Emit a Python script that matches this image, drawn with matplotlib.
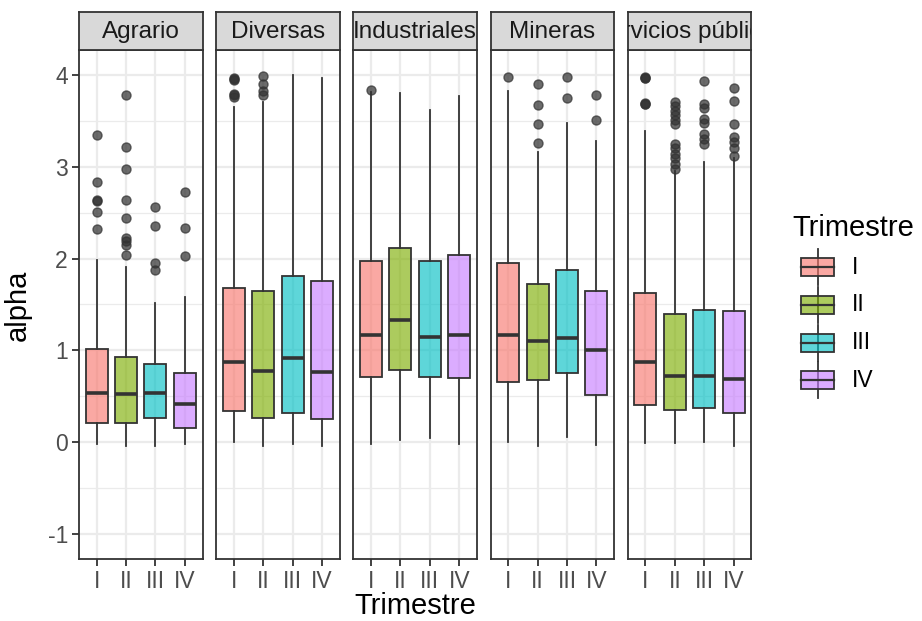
import matplotlib
matplotlib.use('Agg')
import matplotlib.pyplot as plt
from matplotlib.patches import Rectangle

plt.rcParams['font.family'] = ['Liberation Sans', 'DejaVu Sans']
plt.rcParams['axes.unicode_minus'] = False

sectores = ['Agrario', 'Diversas', 'Industriales', 'Mineras', 'Servicios públicos']
trimestres = ['I', 'II', 'III', 'IV']
colores = ['#F8766D', '#7CAE00', '#00BFC4', '#C77CFF']

# filas = sector, columnas = trimestre
mediana = [[0.54, 0.525, 0.54, 0.42],
           [0.87, 0.78, 0.92, 0.76],
           [1.17, 1.33, 1.15, 1.17],
           [1.17, 1.10, 1.14, 1.01],
           [0.87, 0.725, 0.725, 0.69]]
q1 = [[0.21, 0.21, 0.27, 0.16],
      [0.34, 0.27, 0.32, 0.25],
      [0.71, 0.79, 0.71, 0.70],
      [0.66, 0.68, 0.75, 0.515],
      [0.405, 0.355, 0.375, 0.32]]
q3 = [[1.02, 0.93, 0.855, 0.75],
      [1.685, 1.65, 1.81, 1.755],
      [1.97, 2.115, 1.97, 2.04],
      [1.95, 1.72, 1.88, 1.65],
      [1.63, 1.395, 1.445, 1.43]]
bigote_inf = [[-0.02, -0.04, -0.04, -0.02],
              [0.0, -0.04, -0.02, -0.04],
              [-0.02, 0.025, 0.045, -0.02],
              [0.0, -0.04, 0.06, -0.03],
              [-0.01, -0.01, 0.0, -0.04]]
bigote_sup = [[1.98, 1.91, 1.52, 1.58],
              [3.645, 3.70, 4.0, 3.96],
              [3.81, 3.80, 3.62, 3.765],
              [3.82, 3.155, 3.48, 3.28],
              [3.39, 2.95, 3.05, 3.09]]
atipicos = [
    [[3.35, 2.83, 2.64, 2.63, 2.51, 2.32],
     [3.78, 3.21, 2.97, 2.64, 2.44, 2.22, 2.19, 2.15, 2.04],
     [2.56, 2.35, 1.95, 1.88],
     [2.72, 2.33, 2.03]],
    [[3.96, 3.95, 3.94, 3.79, 3.775, 3.76],
     [3.985, 3.90, 3.82, 3.78],
     [],
     []],
    [[3.84], [], [], []],
    [[3.98],
     [3.905, 3.67, 3.46, 3.26],
     [3.98, 3.75],
     [3.78, 3.51]],
    [[3.975, 3.97, 3.965, 3.69, 3.685, 3.68],
     [3.70, 3.66, 3.61, 3.56, 3.51, 3.47, 3.25, 3.20, 3.14, 3.09, 3.03, 2.98],
     [3.93, 3.685, 3.64, 3.52, 3.48, 3.36, 3.30, 3.25],
     [3.855, 3.71, 3.46, 3.32, 3.27, 3.20, 3.12]],
]

W, H = 922, 621
fig = plt.figure(figsize=(W / 100, H / 100), dpi=100)

borde = '#333333'
gris_txt = '#4D4D4D'

for i, sector in enumerate(sectores):
    left = 79 + i * 137.2
    ax = fig.add_axes([left / W, 1 - 559 / H, 123.5 / W, (559 - 50) / H])
    stats = []
    for j in range(4):
        stats.append(dict(med=mediana[i][j], q1=q1[i][j], q3=q3[i][j],
                          whislo=bigote_inf[i][j], whishi=bigote_sup[i][j],
                          fliers=atipicos[i][j]))
    bp = ax.bxp(stats, positions=[1, 2, 3, 4], widths=0.75, patch_artist=True,
                showcaps=False,
                boxprops=dict(edgecolor=borde, linewidth=1.3),
                whiskerprops=dict(color=borde, linewidth=1.3),
                medianprops=dict(color=borde, linewidth=2.6),
                flierprops=dict(marker='o', markersize=6.5, markerfacecolor='#333333',
                                markeredgecolor='#333333', alpha=0.72, linestyle='none'),
                zorder=3)
    for patch, c in zip(bp['boxes'], colores):
        r, g, b = matplotlib.colors.to_rgb(c)
        patch.set_facecolor((r, g, b, 0.63))
        patch.set_edgecolor(borde)
    ax.set_xlim(0.4, 4.6)
    ax.set_ylim(-1.27, 4.27)
    ax.set_xticks([1, 2, 3, 4])
    ax.set_xticklabels(trimestres)
    ax.set_yticks([-1, 0, 1, 2, 3, 4])
    ax.set_yticks([-0.5, 0.5, 1.5, 2.5, 3.5], minor=True)
    ax.grid(which='major', color='#EBEBEB', linewidth=1.6, zorder=0)
    ax.grid(which='minor', axis='y', color='#EBEBEB', linewidth=0.9, zorder=0)
    ax.set_axisbelow(True)
    for s in ax.spines.values():
        s.set_color(borde)
        s.set_linewidth(1.3)
    ax.tick_params(axis='both', which='major', length=5, width=1.3, color=borde,
                   labelcolor=gris_txt, labelsize=16.5, pad=3)
    ax.tick_params(axis='y', which='minor', length=0)
    if i > 0:
        ax.tick_params(axis='y', which='both', left=False, labelleft=False)

    # tira del facet
    sx = fig.add_axes([left / W, 1 - 50 / H, 123.5 / W, 38 / H])
    sx.set_xlim(0, 1)
    sx.set_ylim(0, 1)
    sx.set_facecolor('#D9D9D9')
    sx.set_xticks([])
    sx.set_yticks([])
    for s in sx.spines.values():
        s.set_color(borde)
        s.set_linewidth(1.3)
    sx.text(0.5, 0.47, sector, ha='center', va='center', fontsize=17.5,
            color='#1A1A1A', clip_on=True)

fig.text(18 / W, 1 - 305 / H, 'alpha', rotation=90, ha='center', va='center',
         fontsize=21, color='black')
fig.text(415 / W, 1 - 606 / H, 'Trimestre', ha='center', va='center',
         fontsize=21, color='black')

# leyenda
lg = fig.add_axes([780 / W, 1 - 410 / H, 142 / W, 200 / H])
lg.set_xlim(780, 922)
lg.set_ylim(410, 210)
lg.axis('off')
lg.text(792, 228, 'Trimestre', ha='left', va='center', fontsize=21, color='black')
for k, (lab, c) in enumerate(zip(trimestres, colores)):
    yc = 267 + k * 37.8
    r, g, b = matplotlib.colors.to_rgb(c)
    lg.plot([817.5, 817.5], [yc - 18, yc + 18], color=borde, linewidth=1.3)
    lg.add_patch(Rectangle((801, yc - 9), 33, 18, facecolor=(r, g, b, 0.63),
                           edgecolor=borde, linewidth=1.3, zorder=3))
    lg.plot([801, 834], [yc, yc], color=borde, linewidth=1.6, zorder=4)
    lg.text(852, yc, lab, ha='left', va='center', fontsize=16.5, color='black')

fig.savefig('out.png', dpi=100)
